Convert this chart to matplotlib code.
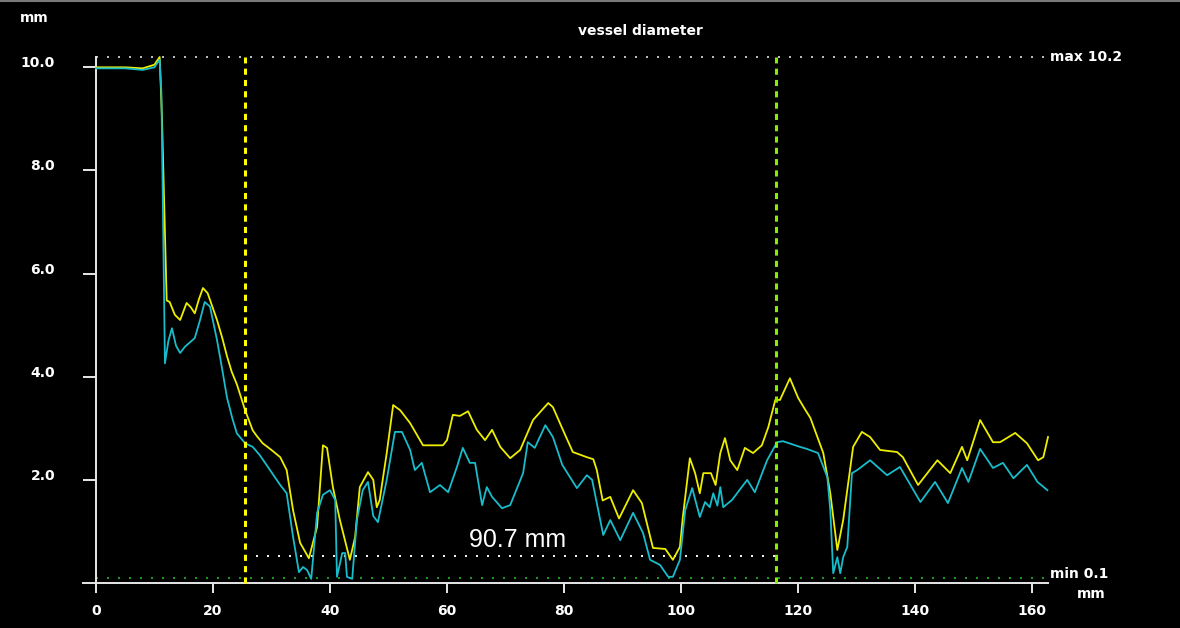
import matplotlib
matplotlib.use('Agg')
import matplotlib.pyplot as plt
from matplotlib.lines import Line2D

# vessel diameter profiles (mm vs mm along the vessel)
yellow_x = [0, 5, 8, 10, 10.9, 11.3, 12.1, 12.6, 13.5, 14.4, 15.5, 16.2, 16.9, 17.6, 18.3,
            19.1, 20.7, 21.6, 22.4, 23.2, 24.1, 25.5, 26.8, 27.5, 28.5, 30.0, 31.5, 32.6,
            33.7, 34.9, 36.4, 37.8, 38.8, 39.5,
            40.5, 41.7, 43.4, 44.3, 45.1, 46.5, 47.4, 48.0, 48.5, 49.7, 50.8, 52.0, 53.7,
            55.9, 59.3, 60.0, 61.0, 62.2, 63.6, 65.1, 66.5, 67.7, 69.1, 70.8, 72.5, 74.7,
            77.3, 78.1, 79.8, 81.5, 83.9, 85.0, 85.6, 86.6, 87.9, 89.4, 91.8, 93.3, 95.2,
            97.3, 98.6, 99.8, 100.3, 101.5, 102.4, 103.2, 103.8, 105.1, 105.9, 106.7, 107.5,
            108.4, 109.6, 110.9, 112.3, 113.8, 114.9, 116.1, 116.9, 118.6, 120.0, 121.0,
            122.1, 124.3, 125.5,
            126.7, 127.7, 129.4, 130.9, 132.3, 134.0, 136.9, 137.9, 140.5, 143.8, 146.0,
            148.0, 148.9, 151.1, 153.3, 154.5, 157.1, 159.1, 161.0, 161.9, 162.7]
yellow_y = [10.0, 10.0, 9.98, 10.05, 10.2, 9.0, 5.48, 5.45, 5.2, 5.1, 5.43, 5.35, 5.23, 5.5, 5.72,
            5.62, 5.1, 4.75, 4.4, 4.1, 3.85, 3.35, 2.96, 2.85, 2.71, 2.58, 2.44, 2.19,
            1.41, 0.78, 0.48, 1.09, 2.67, 2.62,
            1.86, 1.22, 0.45, 0.89, 1.86, 2.15, 2.0, 1.47, 1.61, 2.52, 3.45, 3.35, 3.1,
            2.67, 2.67, 2.77, 3.26, 3.24, 3.33, 2.97, 2.77, 2.97, 2.64, 2.42, 2.58, 3.16,
            3.49, 3.41, 2.97, 2.54, 2.44, 2.4, 2.19, 1.6, 1.67, 1.25, 1.8, 1.55, 0.68,
            0.66, 0.45, 0.7, 1.28, 2.42, 2.13, 1.74, 2.13, 2.13, 1.9, 2.52, 2.81,
            2.38, 2.19, 2.62, 2.52, 2.67, 3.02, 3.55, 3.55, 3.97, 3.59, 3.4,
            3.2, 2.52, 1.74,
            0.64, 1.22, 2.64, 2.93, 2.83, 2.58, 2.54, 2.44, 1.9, 2.38, 2.13,
            2.64, 2.38, 3.16, 2.73, 2.73, 2.91, 2.71, 2.38, 2.44, 2.83]

cyan_x = [0, 5, 8, 10.0, 10.9, 11.2, 11.8, 12.4, 13.0, 13.7, 14.4, 15.2, 16.1, 16.9, 17.8,
          18.6, 19.5, 20.7, 21.5, 22.4, 23.3, 24.1, 25.5, 26.8, 28.0, 29.4, 31.5, 32.6,
          33.7, 34.7, 35.4, 36.1, 36.8, 37.8, 38.8,
          40.0, 40.9, 41.2, 42.1, 42.6, 42.9, 43.8, 44.6, 45.6, 46.5, 47.4, 48.2, 49.7,
          51.1, 52.3, 53.7, 54.5, 55.7, 57.1, 58.8, 60.2, 61.7, 62.7, 63.9, 64.8, 66.0,
          66.8, 67.7, 69.4, 70.8, 73.0, 73.8, 75.0, 76.8, 78.1, 79.7, 82.2, 83.9, 84.8,
          86.7, 87.9, 89.6, 91.8, 93.5, 94.7, 96.4, 97.8, 98.6, 99.8, 100.7, 101.9, 103.2,
          104.1, 104.9, 105.5, 106.2, 106.7, 107.2, 108.7, 111.3, 112.6, 114.7,
          116.4, 117.4, 120.3, 121.5, 123.4, 125.0, 125.5, 126.0, 126.7, 127.2, 127.7, 128.4,
          129.2, 130.1, 132.3, 135.2, 137.4, 140.9, 143.4, 145.6, 148.0, 149.1, 151.1,
          153.3, 155.0, 156.8, 159.1, 160.9, 162.6]
cyan_y = [9.98, 9.98, 9.95, 10.0, 10.15, 9.5, 4.26, 4.7, 4.94, 4.6, 4.46, 4.58, 4.67, 4.75, 5.1,
          5.45, 5.36, 4.71, 4.2, 3.6, 3.2, 2.9, 2.71, 2.64, 2.48, 2.25, 1.9, 1.74,
          0.89, 0.21, 0.31, 0.25, 0.08, 1.36, 1.71,
          1.8, 1.61, 0.12, 0.58, 0.58, 0.12, 0.08, 1.22, 1.8, 1.96, 1.3, 1.18, 2.0,
          2.93, 2.93, 2.58, 2.19, 2.33, 1.76, 1.9, 1.76, 2.25, 2.62, 2.33, 2.33, 1.51,
          1.86, 1.67, 1.45, 1.51, 2.13, 2.73, 2.62, 3.06, 2.83, 2.29, 1.84, 2.09, 2.0,
          0.93, 1.22, 0.83, 1.36, 0.97, 0.45, 0.35, 0.12, 0.12, 0.45, 1.41, 1.84, 1.28,
          1.57, 1.47, 1.74, 1.5, 1.86, 1.47, 1.61, 2.0, 1.76, 2.38,
          2.73, 2.75, 2.64, 2.6, 2.52, 2.05, 1.41, 0.19, 0.5, 0.19, 0.5, 0.7,
          2.13, 2.19, 2.38, 2.09, 2.25, 1.57, 1.96, 1.55, 2.23, 1.96, 2.6,
          2.23, 2.33, 2.03, 2.29, 1.96, 1.8]

x_ticks = [0, 20, 40, 60, 80, 100, 120, 140, 160]
y_ticks = [2.0, 4.0, 6.0, 8.0, 10.0]
max_val = 10.2
min_val = 0.1
x_end = 162.7
start_marker = 25.5
end_marker = 116.2
span_level = 0.52

fig = plt.figure(figsize=(11.8, 6.28), dpi=100, facecolor='black')
ax = fig.add_axes([83 / 1180, 45 / 628, 965 / 1180, 526 / 628])
ax.set_facecolor('black')
ax.set_xlim(-2.2, x_end)
ax.set_ylim(0, max_val)

# axes
for s in ['top', 'right']:
    ax.spines[s].set_visible(False)
ax.spines['left'].set_position(('data', 0))
ax.spines['left'].set_bounds(0, max_val)
ax.spines['left'].set_color('#e8e8e8')
ax.spines['bottom'].set_color('#e8e8e8')
ax.spines['left'].set_linewidth(1.4)
ax.spines['bottom'].set_linewidth(1.4)

ax.set_xticks(x_ticks)
ax.set_xticklabels([str(t) for t in x_ticks])
ax.set_yticks(y_ticks)
ax.set_yticklabels(['%.1f' % t for t in y_ticks])
ax.tick_params(axis='x', colors='#e8e8e8', length=7, width=1.4, pad=8,
               labelsize=10, labelcolor='white')
ax.tick_params(axis='y', colors='#e8e8e8', length=9.4, width=1.4, pad=20,
               labelsize=10, labelcolor='white')
for lbl in ax.get_xticklabels() + ax.get_yticklabels():
    lbl.set_fontweight('bold')
for lbl in ax.get_yticklabels():
    lbl.set_va('baseline')

# reference lines
ax.plot([0, x_end], [max_val, max_val], color='#b8b8b8', lw=1.44,
        linestyle=(0, (1, 4.5)), dash_capstyle='butt', clip_on=False)
ax.plot([0, x_end], [min_val, min_val], color='#1f9a1f', lw=1.44,
        linestyle=(0, (1, 4.5)), dash_capstyle='butt', clip_on=False)
ax.plot([start_marker, end_marker], [span_level, span_level], color='#f0f0f0', lw=1.44,
        linestyle=(0, (1, 4.5)), dash_capstyle='butt')

# curves
ax.plot(yellow_x, yellow_y, color='#eeee00', lw=1.3, clip_on=False, zorder=3)
ax.plot(cyan_x, cyan_y, color='#19bccb', lw=1.3, clip_on=False, zorder=3)

# markers
ax.plot([start_marker, start_marker], [0, max_val], color='#ffff00', lw=2.2,
        linestyle=(0, (2, 1.7)), dash_capstyle='butt', clip_on=False, zorder=4)
ax.plot([end_marker, end_marker], [0, max_val], color='#88ee00', lw=2.2,
        linestyle=(0, (2, 1.7)), dash_capstyle='butt', clip_on=False, zorder=4)

ax.text((start_marker + end_marker) / 2 + 1.2, span_level + 0.32,
        '%.1f mm' % (end_marker - start_marker), color='white', fontsize=18,
        family='Liberation Sans', ha='center', va='center')

# labels
ax.text(x_end + 0.3, max_val, 'max %.1f' % max_val, color='white', fontsize=10,
        fontweight='bold', ha='left', va='center')
ax.text(x_end + 0.3, min_val + 0.08, 'min %.1f' % min_val, color='white', fontsize=10,
        fontweight='bold', ha='left', va='center')
ax.text(x_end + 5.0, -0.08, 'mm', color='white', fontsize=10,
        fontweight='bold', ha='left', va='top')
fig.text(20 / 1180, 1 - 18 / 628, 'mm', color='white', fontsize=10,
         fontweight='bold', ha='left', va='center')
fig.text(640 / 1180, 1 - 31 / 628, 'vessel diameter', color='white', fontsize=10,
         fontweight='bold', ha='center', va='center')

fig.add_artist(Line2D([0, 1], [0.999, 0.999], color='#7a7a7a', lw=1.5))

fig.savefig('out.png', dpi=100, facecolor='black')
